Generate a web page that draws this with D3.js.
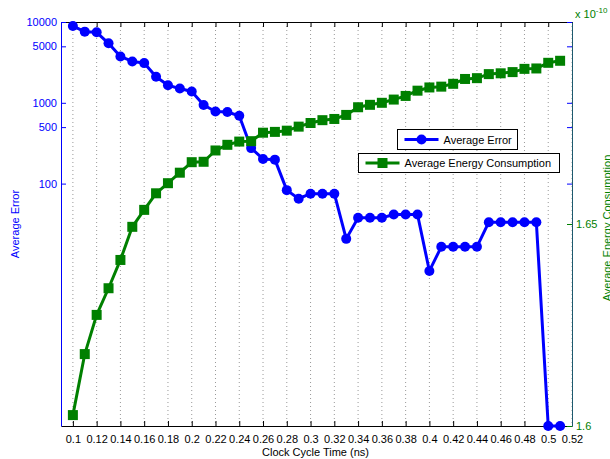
<!DOCTYPE html>
<html>
<head>
<meta charset="utf-8">
<script src="https://cdn.jsdelivr.net/npm/d3@7"></script>
<style>
  body { margin: 0; background: #fff; }
  svg { display: block; font-family: "Liberation Sans", Arial, Helvetica, sans-serif; }
</style>
</head>
<body>
<svg id="plotSvg"></svg>
<script>
// clock cycle times (ns), one point every 0.01
const clockTimes = [0.10, 0.11, 0.12, 0.13, 0.14, 0.15, 0.16, 0.17, 0.18, 0.19,
    0.20, 0.21, 0.22, 0.23, 0.24, 0.25, 0.26, 0.27, 0.28, 0.29,
    0.30, 0.31, 0.32, 0.33, 0.34, 0.35, 0.36, 0.37, 0.38, 0.39,
    0.40, 0.41, 0.42, 0.43, 0.44, 0.45, 0.46, 0.47, 0.48, 0.49,
    0.50, 0.51];

const avgError = [8900, 7600, 7450, 5450, 3750, 3250, 3100, 2100, 1650, 1500,
    1380, 940, 780, 770, 690, 275, 202, 198, 83, 65,
    75, 75, 75, 20.7, 37.7, 37.7, 37.7, 41.4, 41.4, 41.4,
    8.3, 16.5, 16.5, 16.5, 16.5, 33.3, 33.3, 33.3, 33.3, 33.3,
    0.1, 0.1];

// energy in units of 1e-10
const avgEnergy = [1.6027, 1.6178, 1.6275, 1.6341, 1.6411, 1.6493, 1.6535, 1.6576, 1.6601, 1.6627,
    1.6653, 1.6654, 1.6682, 1.6696, 1.6704, 1.6705, 1.6726, 1.6728, 1.6731, 1.6741,
    1.6750, 1.6757, 1.6760, 1.6770, 1.6789, 1.6795, 1.6800, 1.6808, 1.6817, 1.6830,
    1.6838, 1.6840, 1.6847, 1.6859, 1.6861, 1.6871, 1.6873, 1.6876, 1.6884, 1.6885,
    1.6899, 1.6904];

const xTicks = [0.1, 0.12, 0.14, 0.16, 0.18, 0.2, 0.22, 0.24, 0.26, 0.28, 0.3,
    0.32, 0.34, 0.36, 0.38, 0.4, 0.42, 0.44, 0.46, 0.48, 0.5, 0.52];
const errorTicks = [100, 500, 1000, 5000, 10000];
const energyTicks = [1.6, 1.65];

const errorName = "Average Error";
const energyName = "Average Energy Consumption";

const W = 610, H = 459;
const margin = { top: 22, right: 38, bottom: 33, left: 61 };
const width = W - margin.left - margin.right,
    height = H - margin.top - margin.bottom;

const blue = "#0000ff", green = "#008000";

const svg = d3.select("#plotSvg").attr("width", W).attr("height", H);
const g = svg.append("g").attr("transform", `translate(${margin.left},${margin.top})`);

const x = d3.scaleLinear().domain([0.09, 0.52]).range([0, width]);
const yErr = d3.scaleLog().domain([0.1, 10000]).range([height, 0]);
const yEn = d3.scaleLinear().domain([1.6, 1.7]).range([height, 0]);

// vertical dotted grid
g.selectAll(".grid")
    .data(xTicks)
    .enter().append("line")
    .attr("x1", d => x(d)).attr("x2", d => x(d))
    .attr("y1", 0).attr("y2", height)
    .attr("stroke", "#999")
    .attr("stroke-width", 1)
    .attr("stroke-dasharray", "1,3");

// bottom axis (ticks pointing inward) and top mirror
const xAxis = g.append("g")
    .attr("transform", `translate(0,${height})`)
    .call(d3.axisBottom(x).tickValues(xTicks).tickSizeInner(-5).tickSizeOuter(0)
        .tickPadding(9).tickFormat(d => d3.format("")(+d.toFixed(2))));
xAxis.select(".domain").attr("stroke", "#000");
xAxis.selectAll("text").attr("font-size", 11).attr("fill", "#000").style("font-family", "inherit");

const xTop = g.append("g")
    .call(d3.axisTop(x).tickValues(xTicks).tickSizeInner(-5).tickSizeOuter(0).tickFormat(""));
xTop.select(".domain").attr("stroke", "#000");

// left axis
const yLeft = g.append("g")
    .call(d3.axisLeft(yErr).tickValues(errorTicks).tickSizeInner(-5).tickSizeOuter(0)
        .tickPadding(4).tickFormat(d3.format("d")));
yLeft.select(".domain").attr("stroke", blue);
yLeft.selectAll("line").attr("stroke", blue);
yLeft.selectAll("text").attr("font-size", 11).attr("fill", blue).style("font-family", "inherit");

// blue ticks mirrored on the right side
g.append("g")
    .attr("transform", `translate(${width},0)`)
    .call(d3.axisRight(yErr).tickValues(errorTicks).tickSizeInner(-5).tickSizeOuter(0).tickFormat(""))
    .call(a => a.select(".domain").remove())
    .selectAll("line").attr("stroke", blue);

// right axis
const yRight = g.append("g")
    .attr("transform", `translate(${width},0)`)
    .call(d3.axisRight(yEn).tickValues(energyTicks).tickSizeInner(-5).tickSizeOuter(0)
        .tickPadding(4).tickFormat(d => d3.format("")(+d.toFixed(2))));
yRight.select(".domain").attr("stroke", "#1d5a6e");
yRight.selectAll("line").attr("stroke", green);
yRight.selectAll("text").attr("font-size", 11).attr("fill", green).style("font-family", "inherit");

// exponent label
const expo = svg.append("text")
    .attr("x", margin.left + width + 3)
    .attr("y", 18)
    .attr("font-size", 11)
    .attr("fill", green);
expo.append("tspan").text("x 10");
expo.append("tspan").attr("font-size", 8).attr("dy", -5).text("-10");

// axis titles
svg.append("text")
    .attr("x", margin.left + width / 2 - 1)
    .attr("y", H - 3)
    .attr("text-anchor", "middle")
    .attr("font-size", 11)
    .text("Clock Cycle Time (ns)");

svg.append("text")
    .attr("transform", `translate(19,${margin.top + height / 2}) rotate(-90)`)
    .attr("text-anchor", "middle")
    .attr("font-size", 11)
    .attr("fill", blue)
    .text(errorName);

// right title sits partly outside the figure, as in the original
svg.append("text")
    .attr("transform", `translate(${W + 1},${margin.top + height / 2 + 4}) rotate(-90)`)
    .attr("text-anchor", "middle")
    .attr("font-size", 11)
    .attr("fill", green)
    .text(energyName);

// error series
const errPts = clockTimes.map((t, i) => [t, avgError[i]]);
g.append("path")
    .datum(errPts)
    .attr("fill", "none")
    .attr("stroke", blue)
    .attr("stroke-width", 3)
    .attr("stroke-linejoin", "round")
    .attr("d", d3.line().x(d => x(d[0])).y(d => yErr(d[1])));
g.selectAll(".errDot")
    .data(errPts)
    .enter().append("circle")
    .attr("cx", d => x(d[0]))
    .attr("cy", d => yErr(d[1]))
    .attr("r", 5)
    .attr("fill", blue);

// energy series
const enPts = clockTimes.map((t, i) => [t, avgEnergy[i]]);
g.append("path")
    .datum(enPts)
    .attr("fill", "none")
    .attr("stroke", green)
    .attr("stroke-width", 3)
    .attr("stroke-linejoin", "round")
    .attr("d", d3.line().x(d => x(d[0])).y(d => yEn(d[1])));
g.selectAll(".enDot")
    .data(enPts)
    .enter().append("rect")
    .attr("x", d => x(d[0]) - 5)
    .attr("y", d => yEn(d[1]) - 5)
    .attr("width", 10)
    .attr("height", 10)
    .attr("fill", green);

// the two legend boxes
function legendBox(x0, y0, w, h, color, label, marker) {
    const lg = svg.append("g").attr("transform", `translate(${x0},${y0})`);
    lg.append("rect").attr("width", w).attr("height", h)
        .attr("fill", "#fff").attr("stroke", "#000").attr("stroke-width", 1);
    const cy = h / 2;
    lg.append("line").attr("x1", 7).attr("x2", 41).attr("y1", cy).attr("y2", cy)
        .attr("stroke", color).attr("stroke-width", 3);
    if (marker === "circle") {
        lg.append("circle").attr("cx", 24).attr("cy", cy).attr("r", 5).attr("fill", color);
    } else {
        lg.append("rect").attr("x", 19).attr("y", cy - 5).attr("width", 10).attr("height", 10).attr("fill", color);
    }
    lg.append("text").attr("x", 46).attr("y", cy + 4).attr("font-size", 11).attr("fill", "#000").text(label);
}
legendBox(397.5, 129.5, 120, 20, blue, errorName, "circle");
legendBox(358.5, 153.5, 201, 19, green, energyName, "square");
</script>
</body>
</html>
